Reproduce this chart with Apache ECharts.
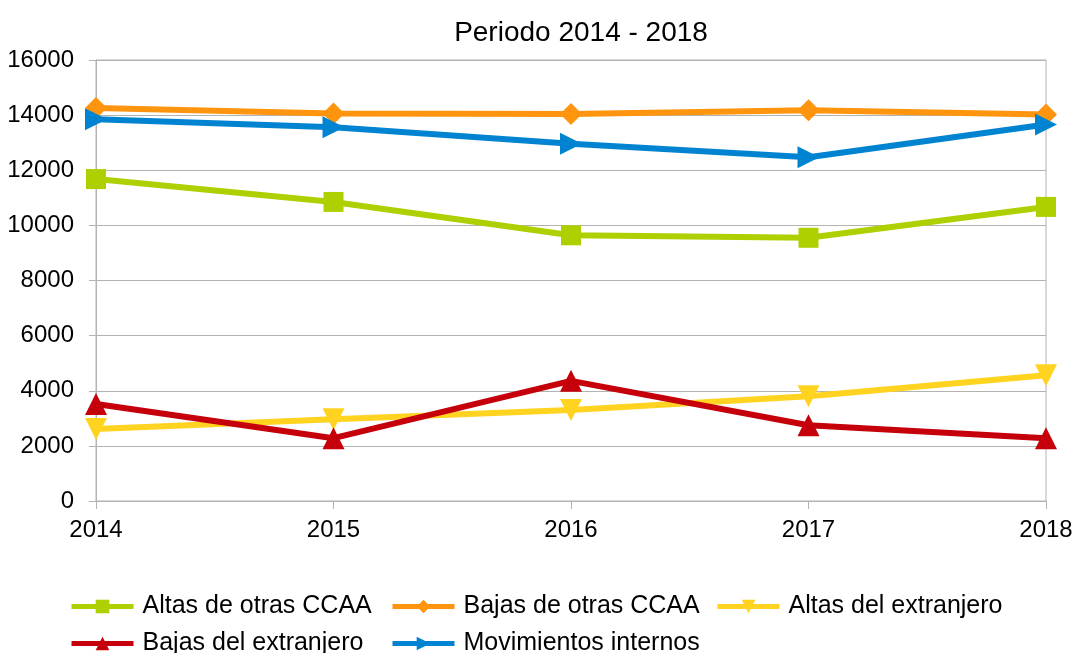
<!DOCTYPE html>
<html>
<head>
<meta charset="utf-8">
<script src="https://cdn.jsdelivr.net/npm/echarts@6/dist/echarts.min.js"></script>
<style>
  html, body { margin: 0; padding: 0; background: #fff; }
  #chart { width: 1076px; height: 653px; }
</style>
</head>
<body>
<div id="chart"></div>
<script>
// datos
var years = ["2014", "2015", "2016", "2017", "2018"];
var altasCCAA = [11680, 10850, 9640, 9550, 10670];
var bajasCCAA = [14260, 14060, 14040, 14180, 14020];
var altasExtranjero = [2610, 2970, 3300, 3800, 4560];
var bajasExtranjero = [3520, 2280, 4360, 2750, 2280];
var movInternos = [13850, 13560, 12960, 12470, 13660];

var FONT = "Liberation Sans, Arial, sans-serif";

function serie(name, data, color, symbol, rotate) {
  return {
    name: name,
    type: "line",
    data: data,
    symbol: symbol,
    symbolSize: symbol == "rect" ? 20 : 22,
    symbolRotate: rotate || 0,
    lineStyle: { width: 6, color: color },
    itemStyle: { color: color },
    emphasis: { disabled: true },
  };
}

// una leyenda por elemento, para alinear las columnas
function leyenda(left, top, name) {
  return {
    left: left,
    top: top,
    itemWidth: 62,
    itemHeight: 17,
    lineStyle: { width: 5 },
    textStyle: { fontFamily: FONT, fontSize: 25, color: "#000", padding: [0, 0, 0, 4] },
    data: [name],
  };
}

var chart = echarts.init(document.getElementById("chart"));
chart.setOption({
  animation: false,
  title: {
    text: "Periodo 2014 - 2018",
    left: 576,
    top: 14,
    textAlign: "center",
    textStyle: { fontFamily: FONT, fontSize: 28, fontWeight: "normal", color: "#000" },
  },
  grid: {
    left: 96,
    right: 30,
    top: 60,
    bottom: 152,
    show: true,
    borderColor: "#b3b3b3",
    borderWidth: 1,
  },
  xAxis: {
    type: "category",
    data: years,
    boundaryGap: false,
    axisLine: { lineStyle: { color: "#b3b3b3" } },
    axisTick: { length: 8, lineStyle: { color: "#b3b3b3" } },
    axisLabel: { fontFamily: FONT, fontSize: 24, color: "#000", margin: 17 },
    splitLine: { show: false },
  },
  yAxis: {
    type: "value",
    min: 0,
    max: 16000,
    interval: 2000,
    axisLine: { show: true, lineStyle: { color: "#b3b3b3" } },
    axisTick: { show: true, length: 7, lineStyle: { color: "#b3b3b3" } },
    axisLabel: {
      fontFamily: FONT, fontSize: 24, color: "#000", margin: 22,
      formatter: function (v) { return String(v); },
    },
    splitLine: { lineStyle: { color: "#b3b3b3" } },
  },
  legend: [
    leyenda(64, 589, "Altas de otras CCAA"),
    leyenda(385, 589, "Bajas de otras CCAA"),
    leyenda(710, 589, "Altas del extranjero"),
    leyenda(64, 626, "Bajas del extranjero"),
    leyenda(385, 626, "Movimientos internos"),
  ],
  series: [
    serie("Altas de otras CCAA", altasCCAA, "#aecf00", "rect"),
    serie("Bajas de otras CCAA", bajasCCAA, "#ff950e", "diamond"),
    serie("Altas del extranjero", altasExtranjero, "#ffd320", "triangle", 180),
    serie("Bajas del extranjero", bajasExtranjero, "#c5000b", "triangle"),
    serie("Movimientos internos", movInternos, "#0084d1", "triangle", -90),
  ],
});
</script>
</body>
</html>
